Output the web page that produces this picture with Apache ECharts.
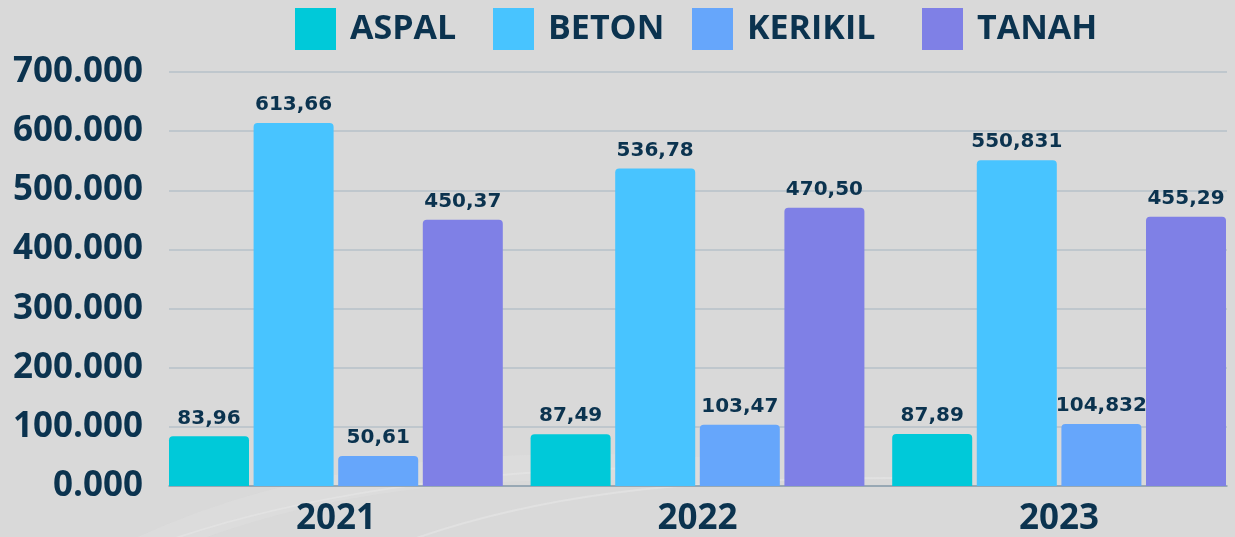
<!DOCTYPE html>
<html>
<head>
<meta charset="utf-8">
<script src="https://cdn.jsdelivr.net/npm/echarts@6/dist/echarts.min.js"></script>
<style>
html,body{margin:0;padding:0;background:#d9d9d9;overflow:hidden;width:1235px;height:537px;}
#chart{width:1245px;height:537px;}
</style>
</head>
<body>
<div id="chart"></div>
<script>
const years = ['2021', '2022', '2023'];
const seriesNames = ['ASPAL', 'BETON', 'KERIKIL', 'TANAH'];
const aspal = [83.96, 87.49, 87.89];
const beton = [613.66, 536.78, 550.831];
const kerikil = [50.61, 103.47, 104.832];
const tanah = [450.37, 470.50, 455.29];
const aspalLabels = ['83,96', '87,49', '87,89'];
const betonLabels = ['613,66', '536,78', '550,831'];
const kerikilLabels = ['50,61', '103,47', '104,832'];
const tanahLabels = ['450,37', '470,50', '455,29'];
const yTicks = [0, 100, 200, 300, 400, 500, 600, 700];

const colors = ['#00c9d9', '#48c4ff', '#66a6fb', '#7f80e6'];
const navy = '#0b334f';
const values = [aspal, beton, kerikil, tanah];
const labels = [aspalLabels, betonLabels, kerikilLabels, tanahLabels];
const legendLeft = [295, 493, 692, 922];

const chart = echarts.init(document.getElementById('chart'), null, {renderer: 'canvas'});
const option = {
  backgroundColor: '#d9d9d9',
  animation: false,
  graphic: [
    {type: 'bezierCurve', z: -10, silent: true,
     shape: {x1: 120, y1: 560, x2: 700, y2: 470, cpx1: 300, cpy1: 470, cpx2: 500, cpy2: 460},
     style: {stroke: '#e2e2e2', lineWidth: 26, fill: null, opacity: 0.35}},
    {type: 'bezierCurve', z: -10, silent: true,
     shape: {x1: 360, y1: 560, x2: 900, y2: 478, cpx1: 520, cpy1: 490, cpx2: 700, cpy2: 478},
     style: {stroke: '#e6e6e6', lineWidth: 2, fill: null, opacity: 0.6}},
    {type: 'bezierCurve', z: -10, silent: true,
     shape: {x1: 170, y1: 540, x2: 640, y2: 468, cpx1: 300, cpy1: 495, cpx2: 480, cpy2: 470},
     style: {stroke: '#e6e6e6', lineWidth: 2, fill: null, opacity: 0.6}}
  ],
  legend: seriesNames.map((n, i) => ({
    data: [n],
    top: 8,
    left: legendLeft[i],
    padding: 0,
    icon: 'rect',
    itemWidth: 41,
    itemHeight: 42,
    textStyle: {
      fontFamily: '"Open Sans"',
      fontWeight: 'bold',
      fontSize: 34,
      color: navy,
      padding: [0, 0, 0, 9]
    }
  })),
  grid: [
    {left: 169, width: 1058, top: 72, bottom: 51},
    {left: 155.1, width: 1084.8, top: 72, bottom: 51}
  ],
  xAxis: [
    {
      type: 'category', gridIndex: 0, data: years,
      axisLine: {show: true, lineStyle: {color: '#8c9eac', width: 1.5}},
      axisTick: {show: false}, axisLabel: {show: false}, splitLine: {show: false}
    },
    {
      type: 'category', gridIndex: 1, data: years,
      axisLine: {show: false}, axisTick: {show: false},
      axisLabel: {
        margin: 16,
        fontFamily: '"Open Sans"', fontWeight: 'bold', fontSize: 35, color: navy
      }
    }
  ],
  yAxis: [
    {
      type: 'value', gridIndex: 0, min: 0, max: 700, interval: 100,
      axisLine: {show: false}, axisTick: {show: false},
      splitLine: {lineStyle: {color: '#b6c0c8', width: 1.5}},
      axisLabel: {
        margin: 26,
        fontFamily: '"Open Sans"', fontWeight: 'bold', fontSize: 35, color: navy,
        formatter: v => yTicks.includes(v) ? v + '.000' : ''
      }
    },
    {
      type: 'value', gridIndex: 1, min: 0, max: 700, interval: 100, show: false
    }
  ],
  series: seriesNames.map((name, i) => ({
    name: name,
    type: 'bar',
    xAxisIndex: 1,
    yAxisIndex: 1,
    data: values[i],
    barWidth: 80,
    barGap: '5.75%',
    barCategoryGap: '7.6%',
    itemStyle: {color: colors[i], borderRadius: [4, 4, 0, 0]},
    label: {
      show: true,
      position: 'top',
      distance: 8,
      fontFamily: '"DejaVu Sans"',
      fontWeight: 'bold',
      fontSize: 20,
      color: navy,
      formatter: p => labels[i][p.dataIndex]
    }
  }))
};
chart.setOption(option);
</script>
</body>
</html>
